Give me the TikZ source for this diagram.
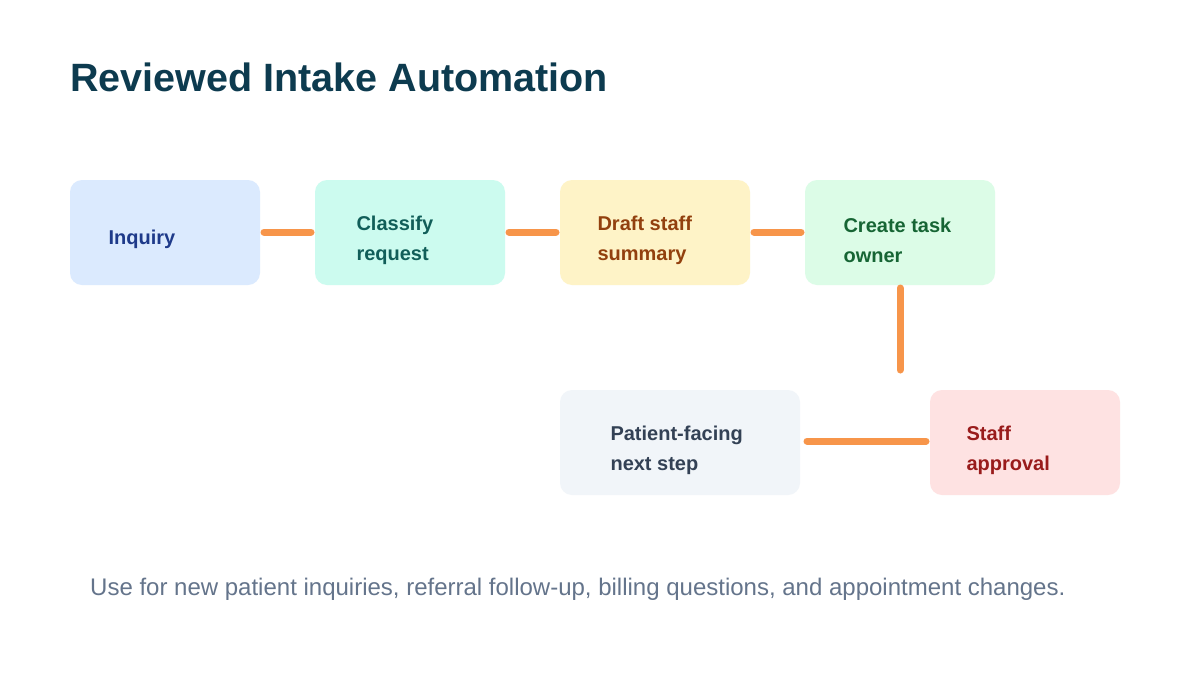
\documentclass[tikz,border=0pt]{standalone}
\usepackage{fontspec}
\setmainfont{Liberation Sans}
\definecolor{titlec}{HTML}{0D3B4F}
\definecolor{footc}{HTML}{64748B}
\definecolor{orng}{HTML}{F7954A}
\definecolor{f1}{HTML}{DBEAFE}\definecolor{t1}{HTML}{1E3A8A}
\definecolor{f2}{HTML}{CCFBEF}\definecolor{t2}{HTML}{115E59}
\definecolor{f3}{HTML}{FEF3C7}\definecolor{t3}{HTML}{92400E}
\definecolor{f4}{HTML}{DCFCE7}\definecolor{t4}{HTML}{166534}
\definecolor{f5}{HTML}{F1F5F9}\definecolor{t5}{HTML}{334155}
\definecolor{f6}{HTML}{FEE2E2}\definecolor{t6}{HTML}{991B1B}
\begin{document}
\begin{tikzpicture}[x=1pt,y=-1pt,
  box/.style={rounded corners=12pt,inner sep=0pt},
  lbl/.style={anchor=west,align=left,font=\fontsize{20}{30}\selectfont\bfseries},
  conn/.style={orng,line width=7pt,line cap=round}]
\useasboundingbox[fill=white] (0,0) rectangle (1200,675);
\node[anchor=base west,text=titlec,font=\fontsize{39.5}{44}\selectfont\bfseries,inner sep=0pt] (title) at (70,91) {Reviewed Intake Automation};
\fill[f1,box] (70,180) rectangle (260,285);
\fill[f2,box] (315,180) rectangle (505,285);
\fill[f3,box] (560,180) rectangle (750,285);
\fill[f4,box] (805,180) rectangle (995,285);
\fill[f5,box] (560,390) rectangle (800,495);
\fill[f6,box] (930,390) rectangle (1120,495);
\node[lbl,text=t1] (a) at (105,239) {Inquiry};
\node[lbl,text=t2] (b) at (353,240) {Classify\\request};
\node[lbl,text=t3] (c) at (594,240) {Draft staff\\summary};
\node[lbl,text=t4] (d) at (840,240) {Create task\\owner};
\node[lbl,text=t5] (e) at (607,450) {Patient-facing\\next step};
\node[lbl,text=t6] (f) at (963,450) {Staff\\approval};
\coordinate (a1) at (264,232); \coordinate (b0) at (311,232);
\coordinate (b1) at (509,232); \coordinate (c0) at (556,232);
\coordinate (c1) at (754,232); \coordinate (d0) at (801,232);
\coordinate (d1) at (900,288); \coordinate (f0) at (900,370);
\coordinate (f1p) at (926,441); \coordinate (e1) at (807,441);
\draw[conn] (a1) -- (b0);
\draw[conn] (b1) -- (c0);
\draw[conn] (c1) -- (d0);
\draw[conn] (d1) -- (f0);
\draw[conn] (f1p) -- (e1);
\node[anchor=base west,text=footc,font=\fontsize{24}{28}\selectfont,inner sep=0pt] (foot) at (90,595) {Use for new patient inquiries, referral follow-up, billing questions, and appointment changes.};
\end{tikzpicture}
\end{document}
